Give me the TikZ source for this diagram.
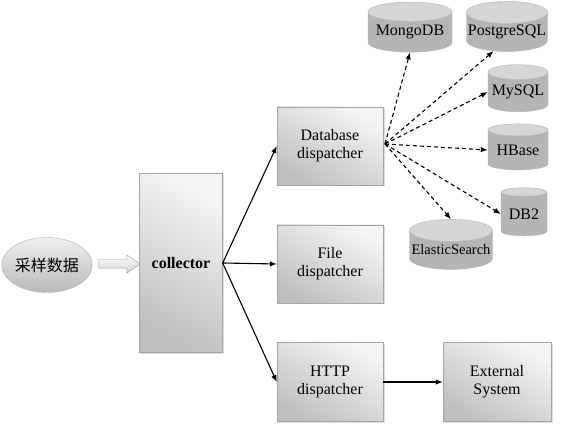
\documentclass[tikz,border=0pt]{standalone}
\usepackage{fontspec}
\setmainfont{Liberation Serif}
\newfontfamily\cjkfont{Noto Sans CJK SC}
\usetikzlibrary{shapes.geometric,shapes.arrows,shadows,arrows.meta}

\tikzset{
    boxstyle/.style={rectangle,draw=gray!70,inner sep=0pt,align=center,
        top color=gray!8,bottom color=gray!50,shading angle=-30,
        drop shadow={shadow xshift=1.5pt,shadow yshift=-1.5pt,fill=gray!55},
        font=\fontsize{16}{18}\selectfont},
    dbstyle/.style={cylinder,shape border rotate=90,aspect=0.28,draw=gray!60,
        inner sep=0pt,cylinder uses custom fill,cylinder body fill=gray!58,
        cylinder end fill=gray!32,font=\fontsize{16}{18}\selectfont}
}

\begin{document}
\begin{tikzpicture}[x=1pt,y=-1pt,>={Latex[length=7pt,width=5.5pt]}]
    \useasboundingbox (0,0) rectangle (566,427);

    \node (data) [ellipse,draw=gray!60,top color=gray!12,bottom color=gray!55,
        minimum width=85pt,minimum height=55pt,inner sep=0pt,
        font=\cjkfont\fontsize{16}{18}\selectfont] at (47,265) {采样数据};
    \node (feed) [single arrow,draw=gray!80,top color=white,bottom color=gray!35,
        minimum height=42pt,inner xsep=0pt,inner ysep=4pt,
        single arrow head extend=5pt,single arrow tip angle=70] at (116,264) {};

    \begin{scope}[every node/.style={boxstyle}]
        \node (col) [minimum width=83pt,minimum height=179pt,
            font=\bfseries\fontsize{16}{18}\selectfont] at (181,263) {collector};
        \node (dbd) [minimum width=106pt,minimum height=78pt] at (330,146) {Database\\dispatcher};
        \node (fd) [minimum width=106pt,minimum height=78pt] at (330,264) {File\\dispatcher};
        \node (hd) [minimum width=106pt,minimum height=79pt] at (330,382) {HTTP\\dispatcher};
        \node (ext) [minimum width=108pt,minimum height=79pt] at (497,382) {External\\System};
    \end{scope}

    \begin{scope}[every node/.style={dbstyle}]
        \node (mongo) [minimum width=84pt,minimum height=50pt] at (410,32) {MongoDB};
        \node (pg) [minimum width=81pt,minimum height=50pt] at (507,32) {PostgreSQL};
        \node (mysql) [minimum width=60pt,minimum height=47pt] at (518,92) {MySQL};
        \node (hbase) [minimum width=60pt,minimum height=46pt] at (518,150) {HBase};
        \node (db2) [minimum width=46pt,minimum height=48pt] at (524,214) {DB2};
        \node (es) [minimum width=83pt,minimum height=50pt,
            font=\fontsize{14.5}{16}\selectfont] at (451,250) {ElasticSearch};
    \end{scope}

    \coordinate (hub) at (385,144);

    \begin{scope}[every edge/.style={draw=black,line width=1.1pt}]
        \path [->] (col.east) edge (dbd.west);
        \path [->] (col.east) edge (fd.west);
        \path [->] (col.east) edge (hd.west);
        \path [->] (hd) edge (ext);
    \end{scope}

    \begin{scope}[every edge/.style={draw=black,line width=1.1pt,dash pattern=on 4pt off 3pt}]
        \path [->] (hub) edge (mongo.south);
        \path [->] (hub) edge (pg.235);
        \path [->] (hub) edge (mysql.west);
        \path [->] (hub) edge (hbase.west);
        \path [->] (hub) edge (db2.west);
        \path [->] (hub) edge (es.north);
    \end{scope}
\end{tikzpicture}
\end{document}
